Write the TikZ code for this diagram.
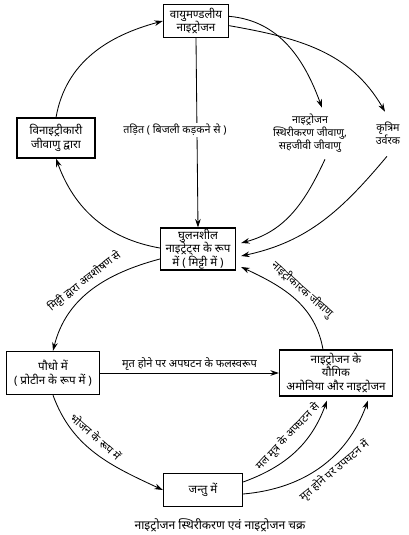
\documentclass[tikz,border=0pt]{standalone}
\usepackage{fontspec}
\setmainfont[Script=Devanagari]{Noto Sans}
\usetikzlibrary{arrows.meta,positioning,calc}

\begin{document}
\begin{tikzpicture}[
  x=0.025cm, y=0.025cm,
  box/.style={draw, thick, align=center, inner sep=0.5pt, font=\fontsize{8.2}{9.6}\selectfont},
  lbl/.style={align=center, inner sep=1pt, font=\fontsize{7.6}{9.4}\selectfont},
  edge/.style={font=\fontsize{7.8}{9}\selectfont, inner sep=1.5pt},
  >={Stealth[length=6pt,width=4pt]}, semithick
]
\useasboundingbox (0,0) rectangle (409,-535);

\node[box, minimum width=1.63cm, minimum height=0.83cm] (atm) at (196,-21) {वायुमण्डलीय\\नाइट्रोजन};
\node[box, minimum width=1.95cm, minimum height=1.0cm] (denit) at (56,-138) {विनाइट्रीकारी\\जीवाणु द्वारा};
\node[box, minimum width=1.88cm, minimum height=1.05cm] (soil) at (198,-249) {घुलनशील\\नाइट्रेट्स के रूप\\में ( मिट्टी में )};
\node[box, minimum width=2.33cm, minimum height=1.08cm] (plant) at (53,-373) {पौधो में\\( प्रोटीन के रूप में )};
\node[box, minimum width=2.83cm, minimum height=1.15cm] (comp) at (336,-373) {नाइट्रोजन के\\यौगिक\\अमोनिया और नाइट्रोजन};
\node[box, minimum width=1.98cm, minimum height=0.83cm] (animal) at (203,-490) {जन्तु में};
\node[lbl] (fix) at (310,-133) {नाइट्रोजन\\स्थिरीकरण जीवाणु,\\सहजीवी जीवाणु};
\node[lbl] (fert) at (388,-133) {कृत्रिम\\उर्वरक};
\node[lbl, font=\fontsize{8.6}{10}\selectfont] (caption) at (220,-525) {नाइट्रोजन स्थिरीकरण एवं नाइट्रोजन चक्र};

% lightning -- straight drop, label sits on the line
\draw[->] (atm.south) -- (soil.north);
\node[lbl, fill=white] (light) at (175,-130) {तड़ित ( बिजली कड़कने से )};

% fixation -- two arcs out of the atmosphere box
\draw[->] (atm.8) to[out=-5,in=110] ($(fix.north)+(12,4)$);
\draw[->] (atm.-8) to[out=-10,in=120] ($(fert.north)+(-3,8)$);
\draw[->] ($(fix.south)+(15,-5)$) to[out=-115,in=15] ($(soil.east)+(5,6)$);
\draw[->] ($(fert.south)+(-1,-10)$) to[out=-130,in=12] ($(soil.east)+(5,-7)$);

% nitrification back into the soil
\draw[->] ($(comp.north)+(-13,0)$) to[out=100,in=-25] node[edge, sloped, above=2pt, pos=0.5] {नाइट्रीकारक जीवाणु} ($(soil.east)+(5,-18)$);

% denitrification loop to the atmosphere
\draw[->] ($(soil.west)+(0,1)$) to[out=170,in=-70] (denit.south);
\draw[->] (denit.north) to[out=80,in=195] (atm.west);

% uptake by plants
\draw[->] ($(soil.west)+(0,-10)$) to[out=195,in=76] node[edge, sloped, above=2pt, pos=0.5] {मिट्टी द्वारा अवशोषण से} (plant.north);

% decay of plants
\draw[->] (plant.east) -- node[edge, above] {मृत होने पर अपघटन के फलस्वरूप} (comp.west);

% food chain and animal decay
\draw[->] (plant.south) to[out=-70,in=155] node[edge, sloped, above=4pt, pos=0.42] {भोजन के रूप में} (animal.west);
\draw[->] ($(animal.east)+(0,8)$) to[out=20,in=-110] node[edge, sloped, above=5pt, pos=0.55] {मल मूत्र के अपघटन से} ($(comp.south)+(-9,-4)$);
\draw[->] ($(animal.east)+(0,-4)$) to[out=5,in=-110] node[edge, sloped, below=2pt, pos=0.55] {मृत होने पर उपघटन में} ($(comp.south)+(32,-4)$);
\end{tikzpicture}
\end{document}
